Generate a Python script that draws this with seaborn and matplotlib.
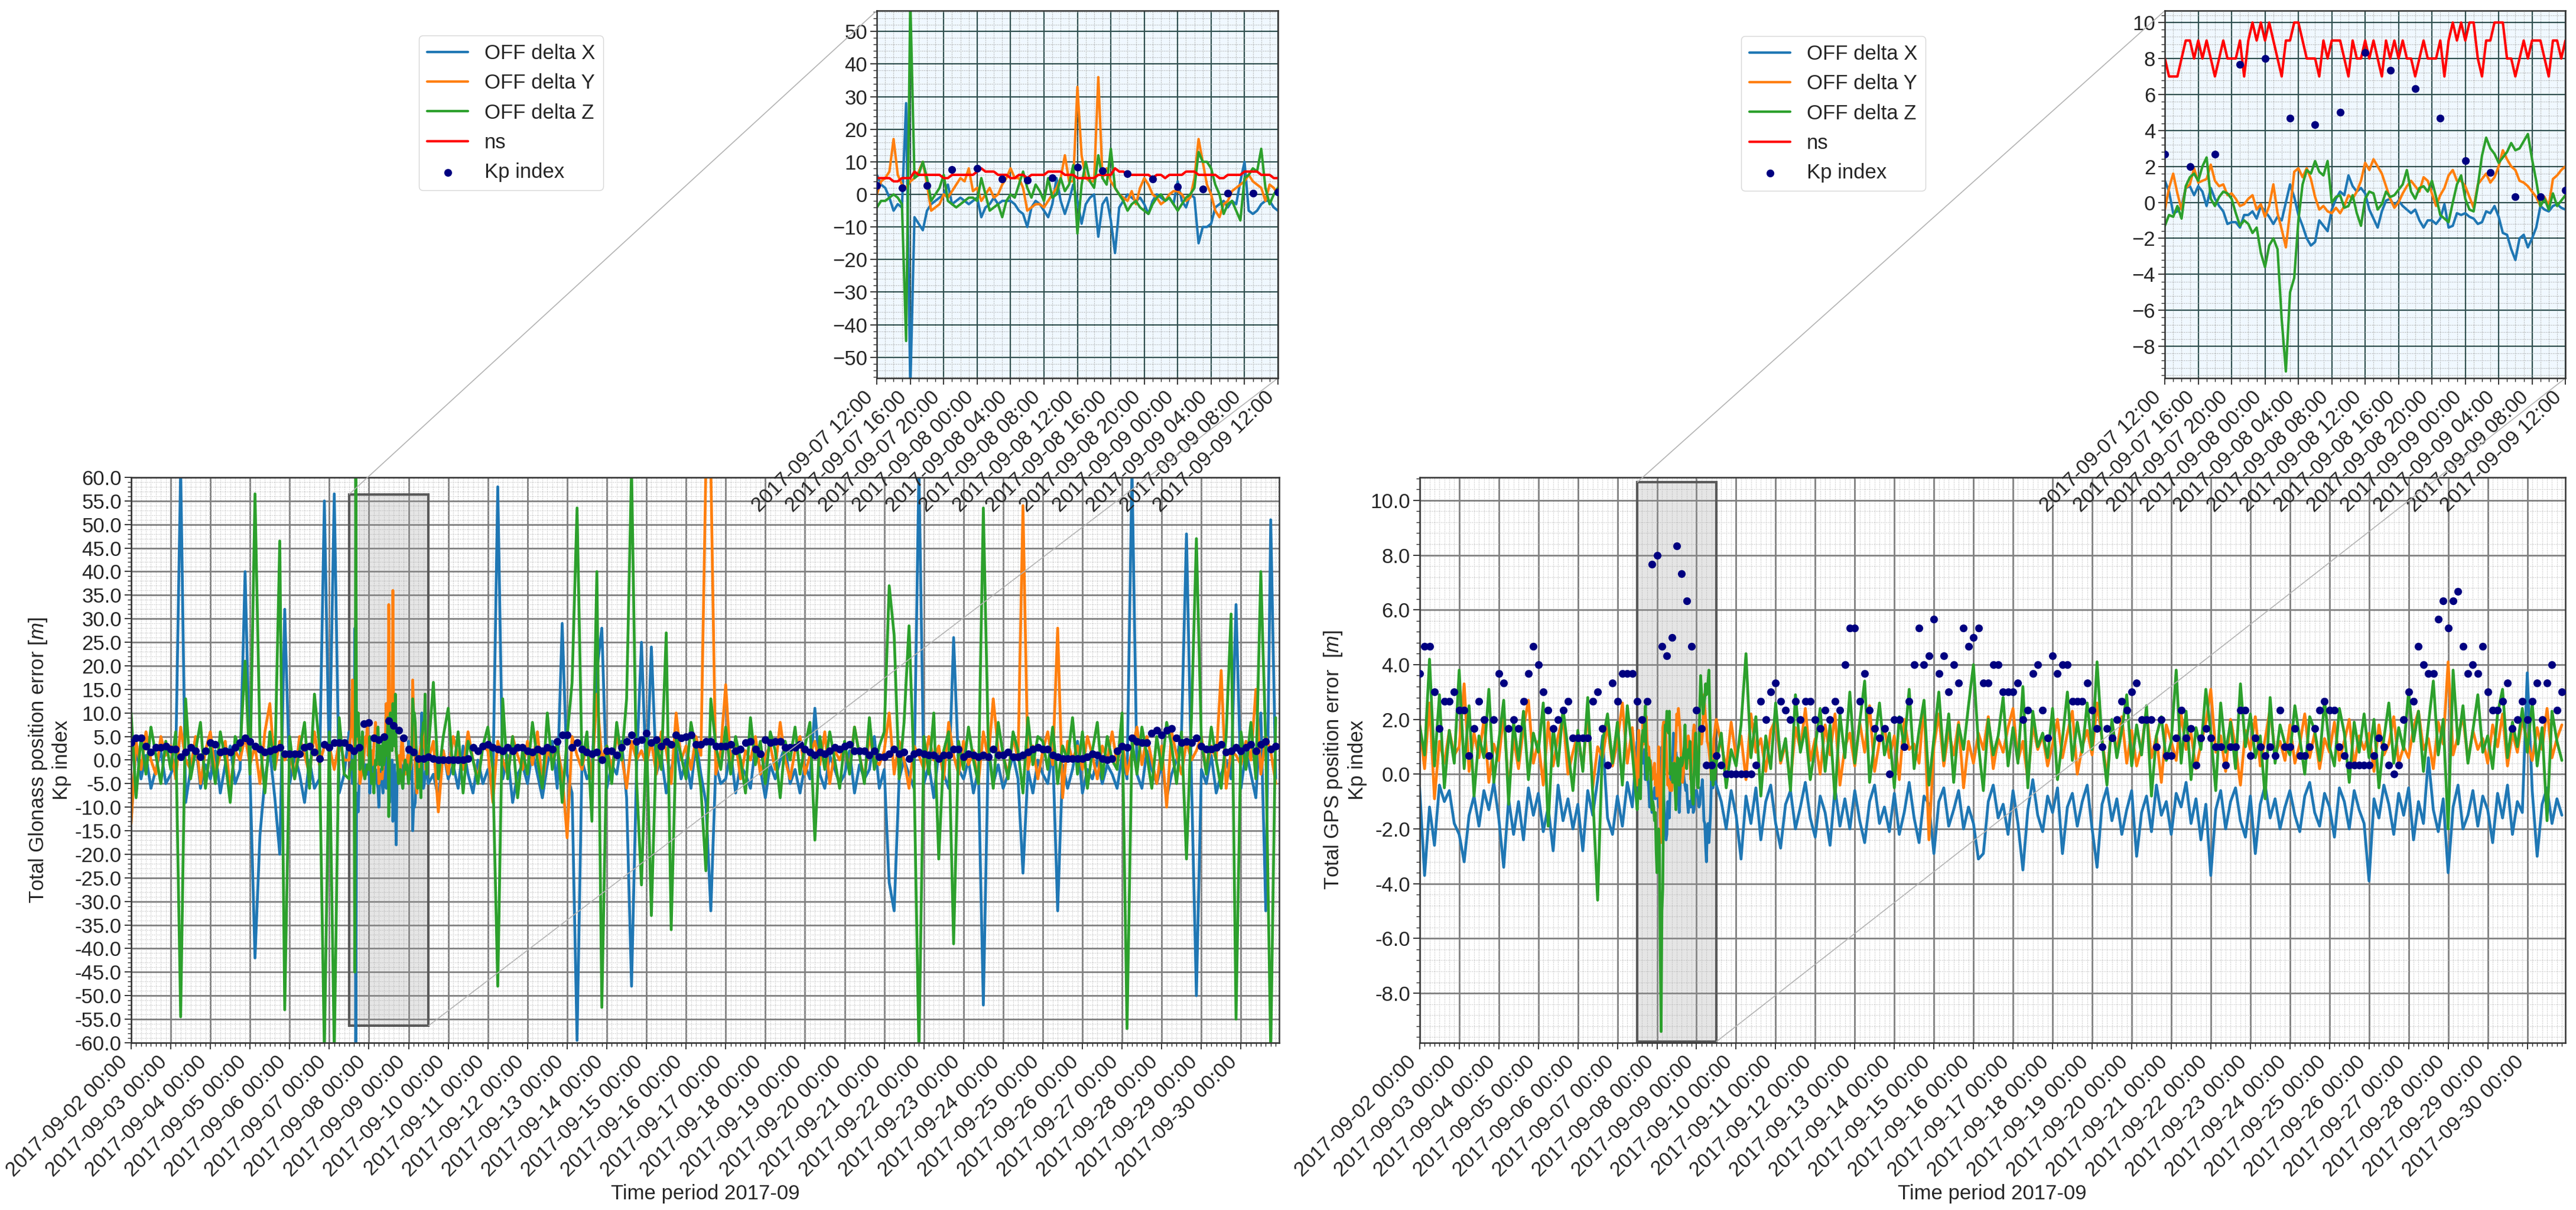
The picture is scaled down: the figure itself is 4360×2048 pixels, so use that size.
import pandas as pd
import matplotlib
matplotlib.use("Agg")
import matplotlib.pyplot as plt
import matplotlib.dates as mdates
from matplotlib.ticker import AutoMinorLocator, MultipleLocator, FormatStrFormatter
from mpl_toolkits.axes_grid1.inset_locator import mark_inset
import seaborn as sns

# ---- data ----
# 3-hourly values, 2017-09-02 00:00 .. 2017-09-30 21:00 (one row per day)
kp = [
    3.67, 4.67, 4.67, 3.0, 1.67, 2.67, 2.67, 3.0,
    2.33, 2.33, 0.67, 1.67, 2.67, 2.0, 0.67, 2.0,
    3.67, 3.33, 1.67, 2.0, 1.67, 2.67, 3.67, 4.67,
    4.0, 3.0, 2.33, 1.67, 2.0, 2.33, 2.67, 1.33,
    1.33, 1.33, 1.33, 2.67, 3.0, 1.67, 0.33, 3.33,
    2.67, 3.67, 3.67, 3.67, 2.67, 2.0, 2.67, 7.67,
    8.0, 4.67, 4.33, 5.0, 8.33, 7.33, 6.33, 4.67,
    2.33, 1.67, 0.33, 0.33, 0.67, 0.33, 0.0, 0.0,
    0.0, 0.0, 0.0, 0.0, 0.33, 2.67, 2.0, 3.0,
    3.33, 2.67, 2.33, 2.0, 2.67, 2.0, 2.67, 2.67,
    2.0, 1.67, 2.33, 2.0, 2.67, 2.33, 4.0, 5.33,
    5.33, 2.67, 3.67, 2.33, 1.67, 1.33, 1.67, 0.0,
    2.0, 2.0, 1.0, 2.67, 4.0, 5.33, 4.0, 4.33,
    5.67, 3.67, 4.33, 3.0, 4.0, 3.33, 5.33, 4.67,
    5.0, 5.33, 3.33, 3.33, 4.0, 4.0, 3.0, 3.0,
    3.0, 3.33, 2.0, 2.33, 3.67, 4.0, 2.33, 1.33,
    4.33, 3.67, 4.0, 4.0, 2.67, 2.67, 2.67, 3.33,
    2.33, 1.67, 1.0, 1.67, 1.33, 2.0, 2.67, 2.33,
    3.0, 3.33, 2.0, 2.0, 2.0, 1.0, 2.0, 0.67,
    0.67, 1.33, 2.33, 1.33, 1.67, 0.33, 1.33, 1.67,
    1.33, 1.0, 1.0, 0.33, 1.0, 1.0, 2.33, 2.33,
    0.67, 1.33, 1.0, 0.67, 1.0, 0.67, 2.33, 1.0,
    1.0, 1.67, 0.67, 0.67, 1.0, 1.67, 2.33, 2.67,
    2.33, 2.33, 1.0, 0.67, 0.33, 0.33, 0.33, 0.33,
    0.33, 0.67, 1.33, 1.0, 0.33, 0.0, 0.33, 2.0,
    3.0, 2.67, 4.67, 4.0, 3.67, 3.67, 5.67, 6.33,
    5.33, 6.33, 6.67, 4.67, 3.67, 4.0, 3.67, 4.67,
    3.0, 2.33, 2.33, 2.67, 3.33, 1.67, 2.0, 2.67,
    2.0, 2.67, 3.33, 2.0, 3.33, 4.0, 2.33, 3.0,
]

glo_x = [
    -13, 3, -4, 1, -6, -2, 2, -5,
    -3, 0, 62, -9, -2, 4, -6, -1,
    -4, 2, -7, -1, 3, -5, -2, 40,
    -3, -42, -16, -4, 2, -8, -20, 32,
    -5, 1, -3, -9, 0, -6, -4, 55,
    -2, 56.5, -7, -3, 6, -4, -9, -1,
    -1, -3, -2, -6, -2, -13, 0, -2,
    -1, 0, -4, -10, -5, -3, -8, 2,
    -4, -1, -6, 3, -3, -7, 0, -5,
    -2, -6, 58, -4, 1, -9, -3, -1,
    -5, 2, -3, -8, -1, 4, -6, 29,
    -3, -7, -59.5, 0, -4, -2, 19, 28,
    -6, -1, -3, 4, -8, -48, -2, 25,
    -5, 24, -3, 1, -7, -2, 3, -4,
    0, -6, 4, -3, -9, -32, -1, -5,
    -4, 2, -7, -1, -3, -6, 3, -2,
    -8, -1, -4, 0, 3, -5, -2, -7,
    -1, -4, 11, -3, -6, 1, -2, -5,
    -3, 2, -7, -1, -4, -2, 5, -6,
    -2, -26, -32, -4, 0, -3, -6, 62,
    -5, -1, -8, 2, -3, -6, 26, -2,
    -4, 0, -7, -2, -52, 3, -5, -1,
    -6, -3, 1, -4, -24, -2, -7, 0,
    -3, -5, 2, -32, -1, -6, -2, 4,
    -7, -2, -4, 0, -5, -1, -3, -6,
    1, -4, 62, -3, -6, 2, -2, -5,
    -1, -8, -3, 0, 6, 48, -4, -50,
    -2, -5, 1, -7, -3, 0, -4, 33,
    -6, 2, -3, -8, 10, -32, 51, -4,
]
glo_y = [
    -13.5, 4, -2, 6, 0, -3, 5, 1,
    3, -4, 7, 0, -2, 5, -5, 2,
    6, -3, 1, 4, -6, 2, 0, 5,
    -1, 3, -5, 6, 12, -2, 4, 0,
    2, -4, 5, 1, -3, 6, -1, 3,
    3, -2, 4, 0, 0, 4, 3, -1,
    2, -1, 5, -4, 33, -2, 2, -1,
    0, -2, 2, 3, 0, 4, -11, 2,
    -3, 5, 1, -2, 6, 0, -4, 3,
    2, -9, 4, 0, -3, 5, 1, -2,
    4, -1, 6, -5, 2, 0, 3, -3,
    -16.5, 5, 1, -2, 4, -4, 14, 0,
    3, -2, 5, 1, -6, 4, 0, 2,
    -1, 4, -3, 6, 2, -5, 10, 0,
    3, -2, 5, 1, 62, 62, -3, 2,
    16, -1, 4, -4, 2, 0, 5, -3,
    1, 3, -2, 8, 0, -4, 2, 5,
    -3, 1, 4, -1, 6, -5, 2, 0,
    3, -2, 7, 1, -4, 5, 0, -1,
    2, 10, -3, 4, 0, -6, 3, 1,
    -2, 5, 0, 3, -4, 8, 1, -3,
    4, -1, 2, -5, 6, 0, 13, 2,
    1, -3, 5, 0, 54, -2, 3, -4,
    2, 6, -1, 28, -8, 4, 0, 3,
    -2, 5, 1, -4, 3, 0, 6, -1,
    4, -3, 2, 7, -1, 5, 0, -5,
    3, -10, 6, 1, -3, 4, 0, 2,
    5, -2, 3, 0, 19, -6, 2, 1,
    -1, 4, 0, 15, -3, 5, 2, -5,
]
glo_z = [
    10, -8, 5, -3, 7, 1, -5, 4,
    -2, 6, -54.5, 13, -4, 2, 8, -6,
    3, -5, 6, 0, -9, 5, 2, 21,
    -3, 56.5, 4, -7, 6, -2, 46.5, -53,
    5, -4, 2, 8, -6, 14, 3, -62,
    6, -62, 9, -3, -4, 0, 5, -2,
    -2, 0, -3, 3, -12, 12, 0, -5,
    -1, -3, -8, 8, 2, 16.5, -4, 5,
    11, -3, 6, -7, 4, 0, -5, 3,
    7, -2, -48, 13, -4, 5, -8, 2,
    -3, 8, 0, -6, 10, -2, 4, -9,
    5, 16.5, 53.5, -1, 6, -13, 40, -52.5,
    3, -5, 8, 0, 13, 62, -4, -26.5,
    6, -33, 4, -2, 27, -36, 5, 1,
    -4, 8, 2, -6, -23.5, 13, 3, -2,
    7, -3, 5, 0, -7, 9, -1, 4,
    -5, 6, 2, -8, 4, 0, 7, -3,
    3, 8, -17, 5, -2, 6, 0, -6,
    4, -3, 7, 1, -5, 9, -2, 3,
    6, 37, 26.5, -4, 8, 28.5, -2, -62,
    5, -3, 10, -21, 2, 6, -39, 4,
    -2, 7, 0, -5, 53.5, 3, -6, 8,
    1, -4, 6, 2, -7, 9, -1, 5,
    4, -2, 7, -5, 3, 0, 9, -3,
    6, -6, 2, 8, -4, 5, 0, -2,
    10, -57, 4, -3, 7, 1, -6, 5,
    -2, 8, 3, -5, 6, -21, 9, 47,
    4, -3, 7, 0, -6, 5, 31, -55,
    6, -2, 8, -4, 40, 3, -62, 9,
]

gps_x = [
    -0.5, -3.7, -1.2, -2.6, -0.4, -1.0, -0.6, -1.8,
    -2.2, -3.2, -1.5, -0.8, -1.9, -0.6, -1.3, -0.3,
    -1.6, -3.4, -0.9, -2.2, -1.0, -2.4, -0.5, -1.5,
    -0.7, -2.1, -1.2, -2.8, -0.4, -1.7, -0.9, -2.0,
    -1.1, -2.8, -0.6, -1.5, -0.2, 1.4, -1.6, -2.2,
    -0.8, -1.9, -0.3, -1.2, 1.2, -1.2, 0.2, -0.7,
    -0.5, -0.7, -2.2, 0.2, 0.5, -0.5, -0.2, -1.0,
    -0.6, -1.2, -3.2, -0.2, -0.4, -1.0, -2.0, -0.6,
    -1.5, -3.1, -0.8, -1.8, -0.5, -2.4, -1.0, -0.4,
    -1.8, -2.7, -1.1, -0.6, -2.0, -1.2, -0.3, -1.6,
    -2.3, -0.8, -1.4, -2.6, -0.5, -1.9, -0.9, -2.0,
    -0.6, -1.7, -2.5, -1.0, -0.4, -1.8, -1.2, -2.1,
    -0.7, -2.2, -1.4, -0.3, -1.6, -2.5, -0.8, -1.1,
    -2.9, -1.0, -0.5, -1.9, -1.3, -0.6, -2.0, -1.2,
    -1.8, -3.1, -2.9, -1.0, -0.4, -1.6, -1.1, -2.2,
    -0.6, -1.8, -3.5, -1.3, -0.2, -1.5, -2.1, -0.8,
    -1.4, -0.5, -2.9, -1.2, -0.7, -1.9, -1.0, -0.4,
    -2.0, -3.4, -1.1, -0.5, -1.7, -0.9, -2.2, -1.3,
    -0.6, -3.0, -1.4, -0.8, -2.1, -0.4, -1.5, -1.0,
    -2.2, -0.7, -1.2, -0.3, -1.8, -0.9, -2.4, -1.1,
    -3.7, -1.3, -0.6, -2.0, -1.0, -0.5, -1.7, -2.3,
    -0.8, -2.9, -1.1, -0.4, -1.6, -0.9, -2.0, -1.2,
    -0.6, -1.5, -2.1, -0.8, -0.3, -1.4, -1.9, -0.7,
    -1.2, -2.3, -0.5, -1.0, -2.0, -0.6, -1.3, -1.8,
    -3.9, -0.9, -1.6, -0.4, -1.1, -2.2, -0.7, -1.5,
    -0.5, -2.4, -1.0, -1.8, 0.6, -1.3, -2.1, -0.9,
    -3.6, -1.2, -0.4, -2.0, -1.5, -0.6, -1.9, -0.8,
    -1.3, -2.5, -0.7, -1.6, -0.4, -2.2, -1.0, -1.4,
    3.7, -0.6, -3.0, -1.1, -0.5, -1.8, -0.9, -1.5,
]
gps_y = [
    1.8, 0.2, 2.6, -0.9, 1.2, 0.4, 1.6, 0.7,
    1.0, 3.3, 0.1, 1.5, 0.6, 2.0, -0.3, 1.1,
    0.5, 2.2, -0.6, 1.3, 0.2, 1.7, 2.7, 0.4,
    1.2, -0.4, 1.9, 0.3, 1.4, 2.1, 0.0, 0.8,
    1.5, 0.2, 2.3, -0.5, 1.0, 0.6, 1.8, 0.3,
    1.2, 2.6, 0.4, 1.7, -0.4, 1.0, 1.2, -0.2,
    -0.8, -1.8, 0.3, -0.6, 2.2, 1.6, 0.9, 1.4,
    1.2, 1.0, 1.8, 0.3, 2.0, 1.1, 0.2, 1.9,
    0.6, 1.4, -0.2, 2.2, 0.8, 1.3, 0.1, 1.6,
    2.0, 0.4, 1.1, -0.3, 1.7, 0.9, 2.4, 0.5,
    1.3, 0.0, 1.8, 0.7, 2.2, -0.4, 1.0, 1.5,
    0.3, 1.9, 0.8, 2.5, 0.1, 1.2, 1.7, 0.6,
    1.4, -0.2, 2.0, 0.9, 1.1, 0.4, 2.6, -2.4,
    1.0, 2.2, 0.3, 1.6, 0.7, 1.9, -0.5, 1.2,
    0.4, 1.5, 0.9, 2.1, 0.2, 1.3, 0.8, 1.7,
    2.4, 0.5, 1.2, -0.2, 1.8, 0.9, 1.4, 0.3,
    1.1, 2.0, 0.6, 1.5, 2.3, 0.0, 1.0, 1.6,
    0.7, 2.6, 1.3, -0.1, 1.9, 0.8, 2.1, 0.4,
    1.6, 0.3, 1.0, 2.3, 0.6, 1.4, -0.3, 1.8,
    1.2, 0.5, 2.2, 0.9, 1.5, 0.2, 1.1, 1.9,
    3.1, 0.8, 1.4, 0.1, 2.0, 1.0, -0.4, 1.6,
    0.9, 2.1, 0.3, 1.3, 2.4, 0.7, 1.2, 0.5,
    1.8, 0.4, 1.1, 2.2, 0.6, 1.5, 0.2, 1.3,
    0.8, 1.9, 0.5, 1.2, 2.0, 0.3, 1.4, 0.9,
    1.5, 0.1, 1.8, 0.7, 1.1, 2.1, 0.4, 1.0,
    0.6, 1.7, 2.3, 0.9, 1.3, 0.2, 1.9, 1.1,
    4.1, 0.7, 1.4, 2.1, 0.5, 1.6, 0.9, 1.3,
    0.4, 1.8, 1.0, 2.2, 0.3, 1.5, 0.8, 2.0,
    1.2, 0.5, 1.7, 0.9, 2.4, 0.6, 1.3, 1.8,
]
gps_z = [
    1.8, 0.7, 4.2, 0.3, 2.9, -0.5, 1.6, 0.4,
    3.8, 0.2, 2.5, -0.8, 1.4, 0.6, 3.1, -0.3,
    1.2, 2.7, -1.1, 1.9, 0.5, 2.3, -0.2, 1.5,
    0.8, 2.6, -1.9, 1.7, 0.3, 2.4, 0.9, -0.6,
    1.6, 0.1, 2.8, -0.7, -4.6, 1.2, 2.2, 0.4,
    1.9, -0.4, 2.5, 0.8, -1.3, 0.9, 0.2, -1.0,
    -3.6, -9.4, 1.8, 0.4, 0.2, 0.7, 0.9, -1.1,
    -0.4, 2.2, 2.9, 0.2, 0.4, 1.5, -0.5, 0.9,
    0.3, 1.8, 4.4, 0.6, 2.1, -0.8, 1.4, 0.2,
    2.6, 0.5, 1.3, -0.6, 2.9, 0.8, 1.7, -0.2,
    1.0, 2.4, 0.1, 1.8, -0.9, 2.2, 0.6, 3.0,
    0.4, 1.9, 3.4, -0.3, 1.2, 2.6, 0.7, 1.5,
    -0.5, 2.1, 1.0, 3.1, 0.2, 1.6, 2.7, -0.4,
    1.3, 3.0, 0.5, 2.2, -0.3, 1.8, 0.9, 2.5,
    4.0, 1.1, -0.6, 2.0, 0.7, 1.4, 2.8, 0.3,
    1.7, 0.4, 3.2, -0.5, 2.3, 1.0, 1.5, 0.6,
    2.4, -0.2, 1.3, 3.0, 0.5, 1.9, 0.8, 2.6,
    0.9, 4.1, 1.2, -0.4, 2.0, 0.6, 1.6, 2.9,
    0.3, 1.8, 0.7, 2.5, -0.8, 1.4, 2.1, 0.5,
    1.2, 3.8, 0.4, 2.3, -0.2, 1.7, 0.9, 3.1,
    1.5, -0.6, 2.6, 0.8, 1.9, 0.2, 3.3, 1.0,
    2.2, 0.6, 1.4, -0.9, 2.8, 0.4, 1.8, 1.1,
    0.7, 2.5, 1.3, 0.0, 2.1, 1.6, 0.5, 2.7,
    1.0, 0.3, 2.4, 1.5, -0.3, 1.9, 0.8, 2.2,
    0.6, 2.0, -0.5, 1.3, 2.6, 0.4, 1.7, 0.9,
    3.0, 1.2, 2.3, 0.1, 1.8, 3.4, 0.7, 2.0,
    -2.0, 3.8, 1.1, 2.5, 0.4, 1.6, 2.9, 0.8,
    1.4, 0.2, 2.2, 3.1, 0.6, 1.9, 1.0, 2.4,
    0.8, 2.6, 0.3, 1.7, -1.7, 2.3, 1.2, 0.5,
]

# 30-minute detail, 2017-09-07 12:00 .. 2017-09-09 12:00 (shown in the insets)
glo_x_zoom = [
    6, 3, 2, -1, -5, -3, -4, 28, -60, -7,
    -9, -11, -5, -3, -2, -1, 0, 3, -3, -2,
    -1, -2, -3, -2, -1, -7, -4, -3, -1, -3,
    -2, -2, -2, -3, -5, -6, -10, -4, -2, -3,
    -5, -7, -3, 5, -2, -6, -2, 3, -2, -9,
    -3, -1, 0, -13, -3, -1, -8, -18, -4, -2,
    0, -1, -2, -1, -3, -6, -2, 0, -1, -2,
    -1, -3, 4, -2, -4, 0, -1, -15, -10, -10,
    -9, -4, -3, -2, -4, -2, -3, 4, 10, -5,
    -6, -5, -3, -2, -2, -4, -5,
]
glo_y_zoom = [
    0, 4, 5, 7, 17, 6, 3, 2, 4, 5,
    7, 10, 3, -5, -4, -3, 0, -1, 1, 3,
    5, 4, 8, 1, 2, -2, 0, 2, -1, 0,
    3, 5, 8, 5, 5, 2, -5, -4, -3, -3,
    -4, -2, 0, 2, 5, 12, 4, 4, 33, 12,
    5, 4, 4, 36, 5, 8, 4, 2, 0, -1,
    -2, 1, -3, 2, 5, 3, 0, -1, -3, -2,
    0, 1, 1, 0, -2, -1, 5, 17, 10, 3,
    0, -5, -7, -3, -2, 1, 2, 3, 4, 6,
    4, 3, 2, -2, 3, 2, 0,
]
glo_z_zoom = [
    -4, -2, -2, -1, 0, -1, -3, -45, 60, 5,
    6, 10, 5, -2, 0, 2, 6, -2, -3, -4,
    -3, -2, -1, -1, -2, 5, 0, -5, -4, -3,
    -7, -2, 0, -1, 3, 7, 2, -1, 3, 1,
    -2, 5, -1, 0, 5, 1, 3, 9, -12, 3,
    10, 4, 2, 12, 5, 3, 14, 2, 0, -2,
    -5, -3, -2, -4, -5, -6, -3, -1, 0, -2,
    -1, -3, -5, -3, -1, 0, 2, 13, 10, 10,
    8, 3, 0, -6, -3, -2, -5, -8, 5, 6,
    8, 7, 14, 2, -3, 0, 2,
]
glo_ns_zoom = [
    5, 5, 5, 5, 4, 4, 5, 5, 5, 7,
    6, 6, 6, 6, 6, 6, 5, 5, 6, 6,
    6, 6, 6, 6, 7, 8, 7, 7, 7, 6,
    6, 6, 5, 5, 6, 6, 5, 6, 6, 6,
    6, 7, 7, 7, 7, 6, 6, 6, 5, 5,
    5, 5, 5, 6, 6, 6, 6, 8, 7, 7,
    6, 6, 6, 6, 6, 6, 5, 6, 6, 5,
    6, 6, 6, 6, 7, 7, 7, 6, 6, 6,
    6, 6, 5, 5, 6, 6, 6, 6, 7, 7,
    7, 7, 6, 6, 6, 5, 5,
]

gps_x_zoom = [
    1.2, 0.6, -0.6, -0.5, -0.2, 0.8, 0.9, 0.4, 0.9, 0.6,
    -0.2, 0.8, 0.2, -0.2, -0.5, -1.2, -1.1, -1.1, -1.4, -0.7,
    -0.7, -0.5, -0.9, -0.2, -0.5, -0.8, -1.2, -0.8, -1.0, 0.0,
    1.0, 0.3, -0.7, -1.3, -2.0, -2.4, -2.2, -1.0, -1.3, -1.6,
    -0.4, 0.2, 0.6, 0.4, 1.5, 0.9, 0.6, 0.8, 0.5, -0.4,
    -0.9, -1.4, -0.5, 0.1, 0.2, -0.2, 0.1, -0.2, -0.4, -0.6,
    -0.4, -1.0, -1.4, -1.0, -1.0, -1.2, -0.9, -0.1, -1.4, -1.3,
    -0.6, -0.7, -0.6, -0.8, -0.9, -1.2, -1.1, -0.5, -0.6, -0.2,
    -0.8, -1.7, -1.8, -2.6, -3.2, -2.0, -1.8, -2.5, -2.0, -1.4,
    -0.2, -0.4, -0.5, -0.2, -0.1, -0.3, -0.4,
]
gps_y_zoom = [
    -0.4, 0.8, 1.6, 0.5, -0.4, 0.8, 1.0, 1.9, 1.1, 1.2,
    1.3, 2.1, 1.2, 0.9, 1.0, 0.4, 0.5, 0.2, -0.2, -0.1,
    0.2, 0.4, -0.4, -0.1, -0.8, -0.2, 1.0, -0.6, -1.5, -2.5,
    -0.5, 1.7, 1.9, 1.4, 1.9, 1.3, 0.3, -0.4, -0.2, -0.5,
    -0.6, -0.3, -0.6, -0.2, 0.4, 0.2, 0.6, 1.2, 2.2, 1.8,
    2.4, 2.0, 1.6, 0.9, 0.2, -0.3, 0.0, 0.5, 0.9, 1.2,
    0.9, 0.6, 1.4, 1.2, 0.5, -0.2, 0.4, 0.8, 1.5, 1.8,
    1.2, 1.2, 0.9, 0.3, -0.3, 1.0, 1.3, 1.6, 1.1, 1.4,
    2.0, 2.9, 2.4, 2.0, 1.8, 1.2, 1.1, 0.9, 0.6, 0.3,
    -0.2, 0.3, -0.2, 1.3, 1.5, 1.8, 2.0,
]
gps_z_zoom = [
    -1.3, -0.7, -0.8, -0.2, -0.9, 0.9, 1.4, 1.6, 1.2, 2.0,
    2.5, 0.2, -0.2, 0.3, 0.6, 0.5, 0.2, -0.6, -1.3, -1.0,
    -1.2, -1.7, -1.4, -2.8, -3.6, -2.4, -2.0, -2.6, -6.5, -9.4,
    -5.0, -4.2, -1.0, 1.0, 1.8, 1.6, 2.3, 1.7, 1.5, 2.3,
    0.0, 0.3, 0.4, -0.3, -0.2, 0.4, -0.6, -1.3, 0.2, 0.6,
    0.5, -0.4, -0.1, 0.6, 0.3, 0.4, 0.7, 1.0, 1.8, 0.6,
    0.2, 0.8, 0.9, 0.6, 1.2, 0.3, -0.7, -0.9, -1.1, 0.0,
    1.0, 1.5, 0.2, -0.4, -0.5, 0.9, 2.6, 3.6, 3.0, 2.7,
    2.2, 2.5, 2.8, 3.3, 2.9, 3.0, 3.4, 3.8, 2.4, 1.2,
    -0.2, 0.2, -0.4, 0.5, -0.2, 0.1, 0.4,
]
gps_ns_zoom = [
    8, 7, 7, 7, 8, 9, 9, 8, 9, 8,
    9, 8, 7, 8, 9, 8, 8, 8, 9, 7,
    9, 10, 9, 10, 9, 10, 9, 8, 7, 9,
    9, 10, 10, 9, 8, 8, 8, 7, 9, 8,
    9, 9, 9, 8, 7, 9, 8, 8, 9, 8,
    9, 8, 7, 9, 8, 9, 8, 9, 8, 8,
    7, 8, 9, 8, 8, 8, 9, 7, 9, 10,
    9, 10, 9, 10, 10, 8, 7, 9, 9, 10,
    10, 10, 8, 8, 7, 8, 9, 8, 9, 9,
    9, 8, 7, 9, 9, 8, 9,
]

kp_time = pd.date_range("2017-09-02 00:00", periods=len(kp), freq="3h")
zoom_time = pd.date_range("2017-09-07 12:00", "2017-09-09 12:00", freq="30min")


def merge(coarse, fine):
    # coarse 3h values outside the zoom window, 30 min values inside it
    s = pd.Series(coarse, index=kp_time, dtype=float)
    s = s[(s.index < zoom_time[0]) | (s.index > zoom_time[-1])]
    return pd.concat([s, pd.Series(fine, index=zoom_time, dtype=float)]).sort_index()


sns.set_theme(style="ticks")
plt.rcParams["font.family"] = ["Liberation Sans", "DejaVu Sans"]
plt.rcParams["mathtext.fontset"] = "custom"
plt.rcParams["mathtext.rm"] = "Liberation Sans"
plt.rcParams["mathtext.it"] = "Liberation Sans:italic"
for k in ["font.size", "axes.labelsize", "xtick.labelsize", "ytick.labelsize", "legend.fontsize"]:
    plt.rcParams[k] = 25

fig = plt.figure(figsize=(43.6, 20.48), dpi=100)

colors = {"X": "#1f77b4", "Y": "#ff7f0e", "Z": "#2ca02c"}


def draw_panel(main_rect, zoom_rect, xs, ys, zs, ns, ylabel, ylim_main, ylim_zoom,
               step_main, step_zoom, legend_xy):
    ax = fig.add_axes(main_rect)
    axz = fig.add_axes(zoom_rect)
    series = [(xs, "X"), (ys, "Y"), (zs, "Z")]

    for a, lw in ((ax, 3.4), (axz, 3.0)):
        for s, key in series:
            sns.lineplot(x=s.index, y=s.values, color=colors[key], lw=lw,
                         label="OFF delta " + key, estimator=None, legend=False, ax=a)
        if a is axz:
            sns.lineplot(x=zoom_time, y=ns, color="red", lw=3.0, label="ns",
                         estimator=None, legend=False, ax=a)
        sns.scatterplot(x=kp_time, y=kp, color="navy", s=90, linewidth=0,
                        label="Kp index", zorder=4, legend=False, ax=a)

    # main axes
    ax.set_xlim(pd.Timestamp("2017-09-02 00:00"), pd.Timestamp("2017-09-30 23:00"))
    ax.set_ylim(*ylim_main)
    ax.xaxis.set_major_locator(mdates.DayLocator())
    ax.xaxis.set_minor_locator(mdates.HourLocator(byhour=range(0, 24, 3)))
    ax.xaxis.set_major_formatter(mdates.DateFormatter("%Y-%m-%d %H:%M"))
    ax.yaxis.set_major_locator(MultipleLocator(step_main))
    ax.yaxis.set_minor_locator(AutoMinorLocator(5))
    ax.yaxis.set_major_formatter(FormatStrFormatter("%.1f"))
    ax.grid(which="major", color="0.5", lw=2)
    ax.grid(which="minor", color="0.72", lw=0.8, ls=":")
    ax.set_axisbelow(True)
    ax.set_xlabel("Time period 2017-09")
    ax.set_ylabel(ylabel)

    # zoom axes
    axz.set_facecolor("#f0f8ff")
    axz.set_xlim(zoom_time[0], zoom_time[-1])
    axz.set_ylim(*ylim_zoom)
    axz.xaxis.set_major_locator(mdates.HourLocator(byhour=range(0, 24, 4)))
    axz.xaxis.set_minor_locator(mdates.HourLocator())
    axz.xaxis.set_major_formatter(mdates.DateFormatter("%Y-%m-%d %H:%M"))
    axz.yaxis.set_major_locator(MultipleLocator(step_zoom))
    axz.yaxis.set_minor_locator(AutoMinorLocator(5))
    axz.grid(which="major", color="#2f4f4f", lw=1.6)
    axz.grid(which="minor", color="0.6", lw=0.8, ls=":")
    axz.set_xlabel("")
    axz.set_ylabel("")

    for a in (ax, axz):
        a.tick_params(which="major", length=8, width=1.3)
        a.tick_params(which="minor", length=4, width=1.0)
        for sp in a.spines.values():
            sp.set_linewidth(1.8)
            sp.set_color("0.2")
        for lab in a.get_xticklabels():
            lab.set_rotation(45)
            lab.set_ha("right")

    rect, c1, c2 = mark_inset(ax, axz, loc1=2, loc2=4, fc=(0.6, 0.6, 0.6, 0.25),
                              ec="0.7", lw=1.2)
    rect.set_edgecolor("0.35")
    rect.set_linewidth(3)

    axz.legend(loc="upper left", bbox_to_anchor=legend_xy, bbox_transform=fig.transFigure,
               borderaxespad=0, frameon=True)


draw_panel([0.0509, 0.1382, 0.4456, 0.4673], [0.3404, 0.6875, 0.1557, 0.3037],
           merge(glo_x, glo_x_zoom), merge(glo_y, glo_y_zoom), merge(glo_z, glo_z_zoom),
           glo_ns_zoom, "Total Glonass position error [$m$]\nKp index",
           (-60, 60), (-56.4, 56.4), 5, 10, (0.1626, 0.9707))

draw_panel([0.5511, 0.1382, 0.4447, 0.4673], [0.8404, 0.6875, 0.1555, 0.3037],
           merge(gps_x, gps_x_zoom), merge(gps_y, gps_y_zoom), merge(gps_z, gps_z_zoom),
           gps_ns_zoom, "Total GPS position error  [$m$]\nKp index",
           (-9.81, 10.84), (-9.77, 10.66), 2, 2, (0.6759, 0.9702))

fig.savefig("out.png", dpi=100)
